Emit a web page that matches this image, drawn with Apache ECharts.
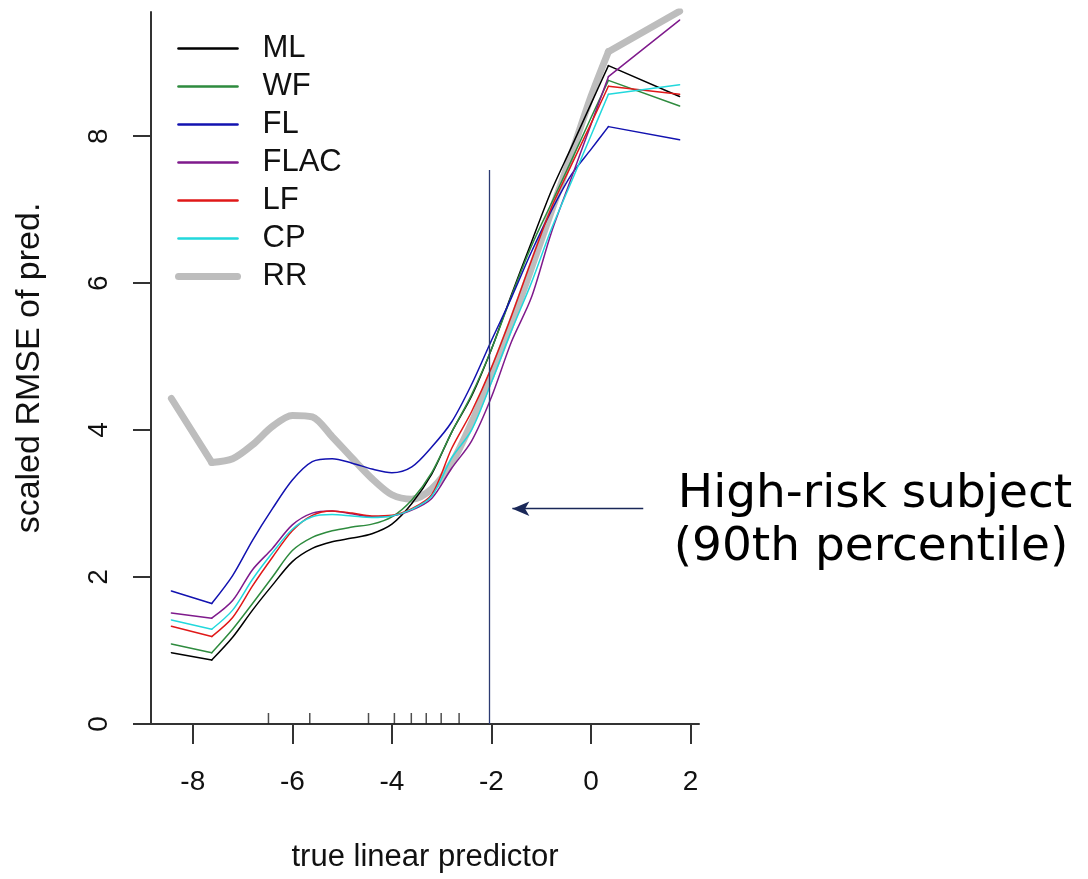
<!DOCTYPE html>
<html>
<head>
<meta charset="utf-8">
<script src="https://cdn.jsdelivr.net/npm/echarts@6/dist/echarts.min.js"></script>
<style>
html,body{margin:0;padding:0;background:#fff;}
#chart{width:1088px;height:879px;}
</style>
</head>
<body>
<div id="chart"></div>
<script>
// x grid of the true linear predictor
const xs = [-8.43,-7.62,-7.2,-6.8,-6.4,-6.0,-5.6,-5.2,-4.8,-4.4,-4.0,-3.6,-3.2,-2.8,-2.4,-2.0,-1.6,-1.2,-0.8,-0.4,0.0,0.35,1.78];
const ML   = [0.97,0.87,1.18,1.55,1.89,2.21,2.39,2.48,2.53,2.59,2.72,3.00,3.40,3.97,4.46,5.10,5.84,6.55,7.25,7.84,8.44,8.96,8.54];
const WF   = [1.09,0.97,1.29,1.64,2.00,2.36,2.54,2.63,2.68,2.72,2.82,3.05,3.42,3.97,4.48,5.10,5.82,6.50,7.08,7.66,8.25,8.76,8.41];
const FL   = [1.81,1.64,2.02,2.50,2.93,3.32,3.57,3.61,3.55,3.47,3.42,3.50,3.77,4.11,4.62,5.22,5.80,6.42,6.98,7.47,7.82,8.13,7.95];
const FLAC = [1.51,1.44,1.68,2.10,2.39,2.71,2.87,2.90,2.86,2.82,2.83,2.91,3.07,3.48,3.85,4.45,5.20,5.80,6.68,7.42,8.16,8.81,9.58];
const LF   = [1.33,1.19,1.45,1.88,2.27,2.63,2.84,2.90,2.87,2.83,2.84,2.93,3.12,3.75,4.25,4.85,5.55,6.30,7.02,7.60,8.17,8.68,8.57];
const CP   = [1.415,1.29,1.55,1.97,2.33,2.65,2.82,2.85,2.83,2.81,2.83,2.92,3.10,3.62,4.00,4.65,5.35,6.00,6.73,7.37,8.01,8.57,8.70];
const RR   = [4.43,3.56,3.61,3.80,4.05,4.20,4.18,3.91,3.62,3.34,3.12,3.06,3.20,3.55,4.10,4.75,5.45,6.20,6.97,7.74,8.54,9.15,9.70];

const seriesNames = ['ML','WF','FL','FLAC','LF','CP','RR'];
const seriesColors = ['#000000','#2e8b3e','#1212b0','#7f1a8c','#e01818','#22d8dc','#bdbdbd'];
const seriesWidths = [1.5,1.5,1.5,1.5,1.5,1.5,7];
const legendWidths = [2.6,2.6,2.6,2.6,2.6,2.6,7];
const seriesValues = [ML,WF,FL,FLAC,LF,CP,RR];

const xTicks = [-8,-6,-4,-2,0,2];
const yTicks = [0,2,4,6,8];
const rugX = [-6.48,-5.65,-4.47,-3.95,-3.61,-3.31,-3.01,-2.65];

const percentileX = -2.04;
const percentileLineTop = 7.54;
const arrowFrom = [1.05, 2.93];
const arrowTo = [-1.58, 2.93];
const annotationLines = ['High-risk subject', '(90th percentile)'];

const chart = echarts.init(document.getElementById('chart'));

const last = xs.length - 1;
function mkSeries(i){
  const base = {
    type:'line', symbol:'none', showSymbol:false,
    lineStyle:{color:seriesColors[i], width:seriesWidths[i], cap:'round', join:'round'},
    itemStyle:{color:seriesColors[i]},
    z: i===6 ? 1 : 3, silent:true, animation:false
  };
  const pts = xs.map((x,j)=>[x, seriesValues[i][j]]);
  // smooth middle part (between the first and last bends)
  const mid = Object.assign({}, base, {name:seriesNames[i], smooth:0.3, data: pts.slice(1, last)});
  // straight tails at both ends
  const tails = Object.assign({}, base, {name:seriesNames[i]+' tails', smooth:false, connectNulls:false,
    data: [pts[0], pts[1], '-', pts[last-1], pts[last]]});
  return [mid, tails];
}
let ordered = mkSeries(6);
for (let i=0;i<6;i++) ordered = ordered.concat(mkSeries(i));

ordered.push({
  name:'rug', type:'scatter', symbol:'rect', symbolSize:[1.5,11], symbolOffset:[0,-5.5],
  data: rugX.map(x=>[x,0]),
  itemStyle:{color:'#222'}, silent:true, animation:false, z:5,
  markLine:{
    silent:true, animation:false, symbol:['none','none'], label:{show:false},
    data:[
      [{coord:[percentileX,0], lineStyle:{color:'#2c3a72', width:1.3, type:'solid'}},{coord:[percentileX,percentileLineTop]}],
      [{coord:arrowFrom, symbol:'none', lineStyle:{color:'#1a2858', width:1.3, type:'solid'}},{coord:arrowTo, symbol:'arrow', symbolSize:[11,17]}]
    ]
  }
});

const option = {
  backgroundColor:'#fff',
  animation:false,
  textStyle:{fontFamily:'Liberation Sans, Arial, sans-serif'},
  grid:{left:151, right:389, top:12, bottom:155, containLabel:false},
  legend:{
    data: seriesNames.map((n,i)=>({name:n, lineStyle:{width:legendWidths[i], cap:'round'}})),
    orient:'vertical', left:170, top:28,
    itemWidth:59, itemHeight:14, itemGap:7,
    itemStyle:{opacity:0},
    lineStyle:{width:'inherit'},
    textStyle:{fontSize:31, color:'#111', fontFamily:'Liberation Sans, Arial, sans-serif', padding:[0,0,0,20]},
    selectedMode:false
  },
  xAxis:{
    type:'value', min:-8.84, max:2.17,
    name:'true linear predictor', nameLocation:'middle', nameGap:118,
    nameTextStyle:{fontSize:31, color:'#111'},
    axisLine:{show:true, onZero:false, lineStyle:{color:'#333', width:2}},
    axisTick:{show:true, customValues:xTicks, length:20, lineStyle:{color:'#333', width:2}},
    axisLabel:{customValues:xTicks, fontSize:28, color:'#111', margin:44},
    splitLine:{show:false}
  },
  yAxis:{
    type:'value', min:0, max:9.69,
    name:'scaled RMSE of pred.', nameLocation:'middle', nameGap:104, nameRotate:90,
    nameTextStyle:{fontSize:34, color:'#111'},
    axisLine:{show:true, onZero:false, lineStyle:{color:'#333', width:2}},
    axisTick:{show:true, customValues:yTicks, length:18, lineStyle:{color:'#333', width:2}},
    axisLabel:{customValues:yTicks, fontSize:28, color:'#111', rotate:90, margin:38},
    splitLine:{show:false}
  },
  graphic:[
    {type:'text', x:875, y:495, style:{text:annotationLines[0], fontSize:47, fontFamily:'DejaVu Sans', fill:'#000', textAlign:'center', textVerticalAlign:'middle'}},
    {type:'text', x:871, y:548, style:{text:annotationLines[1], fontSize:47, fontFamily:'DejaVu Sans', fill:'#000', textAlign:'center', textVerticalAlign:'middle'}}
  ],
  series: ordered
};
chart.setOption(option);
</script>
</body>
</html>
